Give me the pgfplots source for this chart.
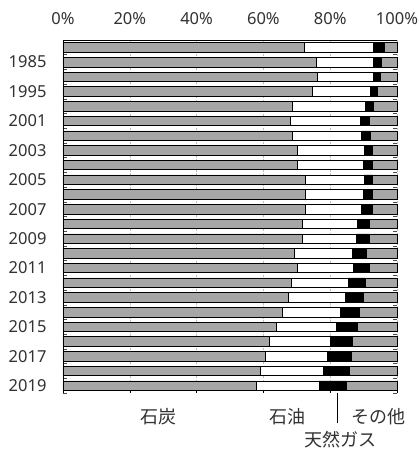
\documentclass[border=0pt]{standalone}
\usepackage{pgfplots}
\pgfplotsset{compat=1.18}
\usepackage{pgfplotstable}
\usepackage{fontspec}
\setmainfont{Noto Sans}
\newfontfamily\jp{Noto Sans CJK JP}
\definecolor{bargray}{RGB}{166,166,166}
\definecolor{gridgray}{RGB}{190,190,190}
\definecolor{txt}{RGB}{50,50,50}

% idx: row from top (1980,1985,1990,1995,2000..2019)
\pgfplotstableread{
idx year coal oil gas other
1  1980 72.2 20.6 3.4 3.8
2  1985 75.8 17.0 2.4 4.8
3  1990 76.2 16.6 2.2 5.0
4  1995 74.6 17.4 2.0 6.0
5  2000 68.6 21.8 2.4 7.2
6  2001 68.0 21.1 2.6 8.3
7  2002 68.6 20.8 2.6 8.0
8  2003 70.2 20.1 2.4 7.3
9  2004 70.2 19.8 2.5 7.5
10 2005 72.4 17.7 2.6 7.3
11 2006 72.4 17.4 2.9 7.3
12 2007 72.5 16.9 3.1 7.5
13 2008 71.5 16.7 3.4 8.4
14 2009 71.6 16.3 3.8 8.3
15 2010 69.2 17.3 4.2 9.3
16 2011 70.2 16.7 4.8 8.3
17 2012 68.5 16.9 5.0 9.6
18 2013 67.4 17.0 5.5 10.1
19 2014 65.7 17.2 5.9 11.2
20 2015 63.9 18.0 6.2 11.9
21 2016 61.8 18.3 6.4 13.5
22 2017 60.5 18.7 7.1 13.7
23 2018 59.1 18.8 7.9 14.2
24 2019 57.8 18.8 8.1 15.3
}\mix

\begin{document}
\begin{tikzpicture}
\path[use as bounding box] (-63pt,-56pt) rectangle (355pt,393pt);
\begin{axis}[
    at={(0,0)}, anchor=south west,
    scale only axis,
    width=334pt, height=353pt,
    xbar stacked,
    bar width=9.5pt,
    xmin=0, xmax=100,
    ymin=0.5, ymax=24.5,
    y dir=reverse,
    axis line style={draw=none},
    xtick={0,20,...,100},
    xticklabels={0\%,20\%,40\%,60\%,80\%,100\%},
    xticklabel pos=upper,
    xtick pos=lower,
    tick align=inside,
    major tick length=3pt,
    x tick style={black, line width=0.6pt},
    x tick label style={font=\fontsize{16.5}{18}\selectfont, yshift=12pt, text=txt},
    xmajorgrids,
    major x grid style={gridgray, dashed, line width=0.6pt, dash pattern=on 2pt off 1.5pt},
    ytick={2,4,...,24},
    yticklabels={1985,1995,2001,2003,2005,2007,2009,2011,2013,2015,2017,2019},
    y tick style={draw=none},
    minor ytick={0.5,1.5,...,24.5},
    minor y tick style={draw=black!70, line width=0.5pt},
    minor tick length=4pt,
    y tick label style={font=\fontsize{16.5}{18}\selectfont, xshift=-13pt, text=txt},
    every axis plot/.append style={draw=black, line width=0.6pt},
    clip=false,
]
\addplot[fill=bargray] table[y=idx, x=coal] {\mix};
\addplot[fill=white] table[y=idx, x=oil] {\mix};
\addplot[fill=black] table[y=idx, x=gas] {\mix};
\addplot[fill=bargray] table[y=idx, x=other] {\mix};

\draw[black, line width=0.8pt] (rel axis cs:0,0) -- (rel axis cs:0,1);
\draw[black, line width=0.8pt] (rel axis cs:0,1) -- (rel axis cs:1,1);
\draw[black, line width=0.8pt] (axis cs:82.1,24.5) -- ++(0,-37pt);
\end{axis}
\node[font=\jp\fontsize{18}{20}\selectfont, text=txt] at (95pt,-23.5pt) {石炭};
\node[font=\jp\fontsize{18}{20}\selectfont, text=txt] at (224pt,-23.5pt) {石油};
\node[font=\jp\fontsize{18}{20}\selectfont, text=txt] at (315pt,-23.5pt) {その他};
\node[font=\jp\fontsize{18}{20}\selectfont, text=txt] at (277pt,-47pt) {天然ガス};
\end{tikzpicture}
\end{document}
